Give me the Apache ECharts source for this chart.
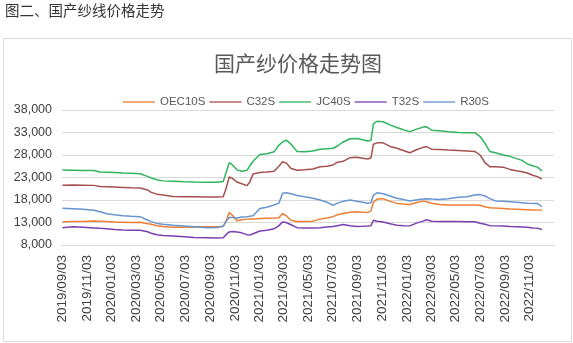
<!DOCTYPE html>
<html>
<head>
<meta charset="utf-8">
<title>国产纱价格走势图</title>
<script src="https://cdn.jsdelivr.net/npm/echarts@6/dist/echarts.min.js"></script>
<style>
  html, body { margin: 0; padding: 0; background: #fff; }
  #chart { width: 573px; height: 343px; }
</style>
</head>
<body>
<div id="chart"></div>
<script>
// Sampled observation dates (shared by all five series)
const dates = [
  '2019/09/03','2019/09/29','2019/10/24','2019/11/20','2019/12/05','2019/12/22',
  '2020/01/10','2020/01/31','2020/02/20','2020/03/13','2020/03/30','2020/04/10',
  '2020/04/24','2020/05/09','2020/06/03','2020/07/01','2020/07/25','2020/08/26',
  '2020/09/20','2020/10/05','2020/10/12','2020/10/20','2020/10/28','2020/11/08',
  '2020/11/20','2020/12/03','2020/12/10','2020/12/18','2021/01/04','2021/01/21',
  '2021/02/08','2021/02/20','2021/03/01','2021/03/10','2021/03/22','2021/04/06',
  '2021/04/25','2021/05/15','2021/06/02','2021/06/19','2021/07/04','2021/07/15',
  '2021/07/29','2021/08/15','2021/09/01','2021/09/15','2021/09/28','2021/10/06',
  '2021/10/12','2021/10/21','2021/11/05','2021/11/22','2021/12/09','2021/12/25',
  '2022/01/10','2022/01/25','2022/02/12','2022/02/20','2022/03/05','2022/03/25',
  '2022/04/15','2022/05/10','2022/06/01','2022/06/20','2022/07/03','2022/07/15',
  '2022/07/27','2022/08/10','2022/08/29','2022/09/15','2022/10/01','2022/10/15',
  '2022/10/28','2022/11/10','2022/11/22','2022/12/03'
];

const seriesNames = ['OEC10S', 'C32S', 'JC40S', 'T32S', 'R30S'];

const oec10s = [
  13150,13200,13250,13350,13300,13200,13100,13050,13000,13050,12800,12600,
  12300,12100,11950,11950,12000,12050,12050,12100,13300,15200,14600,13400,
  13600,13750,13800,13800,13900,13950,14000,14050,15000,14500,13500,13200,
  13200,13300,13750,14000,14300,14700,15000,15300,15400,15300,15250,15600,
  17500,18200,18300,17700,17250,17100,17000,17400,17750,17600,17300,17000,
  16900,16900,16900,16900,16850,16500,16300,16200,16100,16000,15950,15900,
  15850,15800,15750,15700
];

const c32s = [
  21300,21350,21300,21250,21000,20950,20900,20800,20700,20650,20300,19700,
  19300,19100,18800,18700,18700,18650,18650,18700,20500,23100,22800,22000,
  21600,21200,22000,23800,24100,24200,24400,25500,26500,26200,25000,24600,
  24700,24900,25400,25500,25800,26400,26600,27400,27500,27300,27100,27400,
  30400,30700,30700,29900,29500,29000,28500,29100,29700,29850,29300,29200,
  29100,29000,28900,28800,28000,26300,25400,25400,25300,24800,24500,24300,
  24000,23500,23200,22650
];

const jc40s = [
  24650,24600,24550,24550,24200,24150,24100,24000,23950,23850,23300,22900,
  22500,22250,22150,22050,22000,21950,21950,22100,24000,26300,25800,24700,
  24400,24600,25600,26600,28100,28300,28700,30200,30900,31300,30400,28800,
  28700,28900,29300,29400,29500,30000,30900,31600,31650,31400,31100,31300,
  34900,35500,35400,34700,34100,33600,33200,33700,34200,34300,33500,33400,
  33150,33000,32950,32950,32100,30600,28800,28500,28000,27700,27200,26800,
  26000,25600,25300,24450
];

const t32s = [
  11850,12050,11950,11800,11700,11600,11450,11350,11300,11300,11000,10600,
  10300,10100,10000,9850,9650,9600,9550,9600,10300,10900,11000,10900,
  10700,10300,10200,10500,11100,11300,11600,12300,13100,13000,12500,11850,
  11800,11800,11850,12000,12100,12300,12550,12300,12100,12150,12200,12300,
  13500,13300,13100,12700,12400,12300,12250,12800,13300,13600,13300,13200,
  13250,13200,13150,13150,12850,12600,12300,12250,12200,12100,12050,12000,
  11950,11800,11750,11450
];

const r30s = [
  16150,16050,15950,15700,15400,14950,14700,14500,14400,14300,13600,13200,
  12800,12600,12400,12200,12050,11850,11900,12200,13200,14100,14100,14000,
  14200,14300,14400,14500,16100,16400,16900,17300,19500,19600,19400,19000,
  18700,18400,18000,17500,16800,17300,17700,18000,17700,17500,17300,17400,
  19100,19600,19400,18900,18400,18100,17800,18000,18200,18300,18200,18100,
  18300,18600,18700,19100,19200,18900,18300,17800,17700,17600,17500,17400,
  17300,17250,17250,16500
];

const seriesValues = [oec10s, c32s, jc40s, t32s, r30s];
const seriesColors = ['#ED7D31', '#A5504C', '#2EB45C', '#7B3FB0', '#6694CF'];

// Calendar-day category axis so bimonthly labels fall on their own dates
const axisDays = [];
(function buildDays() {
  const pad = n => (n < 10 ? '0' : '') + n;
  const start = Date.UTC(2019, 8, 2);
  const end = Date.UTC(2023, 0, 2);
  for (let t = start; t <= end; t += 86400000) {
    const d = new Date(t);
    axisDays.push(d.getUTCFullYear() + '/' + pad(d.getUTCMonth() + 1) + '/' + pad(d.getUTCDate()));
  }
})();

const isLabelDay = v => v.slice(8) === '03' && (+v.slice(5, 7)) % 2 === 1;

const chart = echarts.init(document.getElementById('chart'), null, { renderer: 'canvas' });

chart.setOption({
  animation: false,
  backgroundColor: '#ffffff',
  graphic: [
    {
      type: 'rect',
      shape: { x: 3.5, y: 38.5, width: 568, height: 303 },
      style: { fill: 'none', stroke: '#d9d9d9', lineWidth: 1 },
      silent: true
    },
    {
      type: 'text',
      x: 5, y: 3,
      style: {
        text: '图二、国产纱线价格走势',
        font: '14.5px "Noto Sans CJK SC"',
        fill: '#333333'
      }
    },
    {
      type: 'text',
      x: 298, y: 53,
      style: {
        text: '国产纱价格走势图',
        font: '21px "Noto Sans CJK SC"',
        fill: '#595959',
        textAlign: 'center'
      }
    }
  ],
  legend: {
    top: 90,
    left: 118,
    icon: 'rect',
    itemWidth: 32,
    itemHeight: 2,
    itemGap: 4,
    itemStyle: { opacity: 0.65 },
    textStyle: { color: '#595959', fontSize: 11.5, fontFamily: 'Liberation Sans', lineHeight: 14 },
    data: seriesNames
  },
  grid: { left: 62, right: 19, top: 110, bottom: 98, containLabel: false },
  xAxis: {
    type: 'category',
    boundaryGap: false,
    data: axisDays,
    axisLine: { show: true, lineStyle: { color: '#d9d9d9' } },
    axisTick: { show: false },
    splitLine: { show: false },
    axisLabel: {
      interval: (i, v) => isLabelDay(v),
      rotate: 90,
      margin: 10,
      color: '#404040',
      fontSize: 13.5,
      fontFamily: 'Liberation Sans'
    }
  },
  yAxis: {
    type: 'value',
    min: 8000,
    max: 38000,
    interval: 5000,
    axisLine: { show: false },
    axisTick: { show: false },
    splitLine: { lineStyle: { color: '#d9d9d9', width: 1 } },
    axisLabel: {
      margin: 10,
      color: '#404040',
      fontSize: 12.5,
      fontFamily: 'Liberation Sans',
      formatter: v => v.toLocaleString('en-US')
    }
  },
  series: seriesNames.map((name, k) => ({
    name: name,
    type: 'line',
    symbol: 'none',
    color: seriesColors[k],
    lineStyle: { width: 1.5, color: seriesColors[k] },
    data: dates.map((d, i) => [d, seriesValues[k][i]])
  }))
});
</script>
</body>
</html>
